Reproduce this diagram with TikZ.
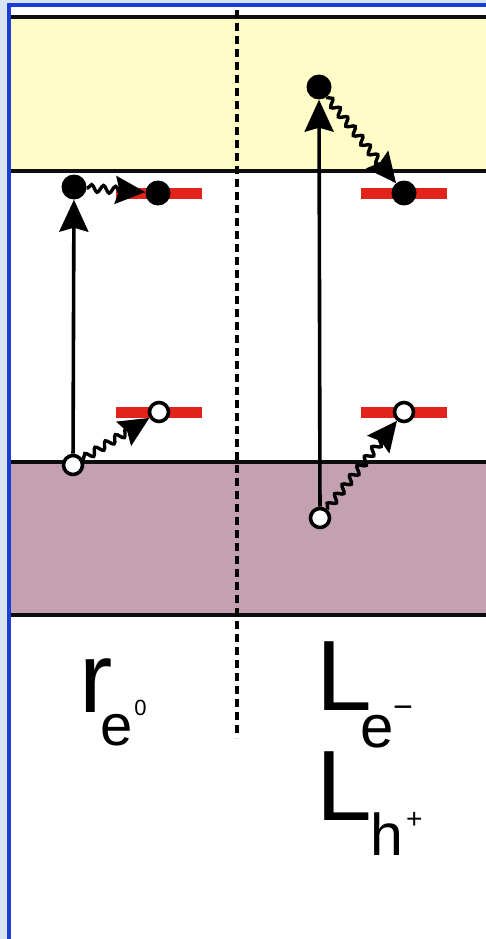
\documentclass[tikz,border=0pt]{standalone}
\usepackage{fontspec}
\setmainfont{Liberation Sans}
\usetikzlibrary{arrows.meta,decorations.pathmorphing}

\definecolor{pagebg}{HTML}{DAE5F4}
\definecolor{frameblue}{HTML}{1A3FD6}
\definecolor{cbband}{HTML}{FFFCC8}
\definecolor{vbband}{HTML}{C4A1B1}
\definecolor{levelred}{HTML}{E2231A}

% big symbol with a lowered subscript and a raised superscript
\newcommand{\carriersym}[8]{%
  {\fontsize{100}{100}\selectfont #1}\kern#2%
  \raisebox{#3}{\fontsize{#4}{#4}\selectfont #5}\kern#6%
  \raisebox{#7}{\fontsize{#8}{#8}\selectfont\carriersup}}

\begin{document}
\begin{tikzpicture}[x=1pt,y=-1pt,
  bandline/.style={line width=4.5pt,black!95},
  divider/.style={line width=4pt,dash pattern=on 8pt off 5pt},
  electron/.style={circle,fill=black,inner sep=0pt,minimum size=25pt},
  hole/.style={circle,draw=black,line width=3.6pt,fill=white,inner sep=0pt,minimum size=19pt},
  trap/.style={rectangle,fill=levelred,inner sep=0pt,minimum width=86pt,minimum height=11pt},
  excite/.style={line width=3.6pt,-{Stealth[length=32pt,width=29pt,inset=4pt]}},
  relax/.style={line width=3.4pt,-{Stealth[length=30pt,width=28pt,inset=4pt]},
    decorate,decoration={snake,amplitude=3.6pt,segment length=12pt,
    pre length=1pt,post length=16pt}},
  symb/.style={inner sep=0pt,anchor=base west}
]
\useasboundingbox (0,0) rectangle (486,939);

% page background, panel and its frame
\fill[pagebg] (0,0) rectangle (486,939);
\fill[white] (9,5) rectangle (486,939);
\draw[frameblue,line width=4.5pt] (9,939) -- (9,5) -- (486,5);

% conduction and valence bands
\fill[cbband] (11,17) rectangle (486,171);
\fill[vbband] (11,462) rectangle (486,615);
\foreach \yy in {17,171,462,615}
  \draw[bandline] (11,\yy) -- (486,\yy);

% dividing line between the two cases
\draw[divider] (237,10) -- (237,738);

% trap levels
\node[trap] (tLu) at (159,193) {};
\node[trap] (tLd) at (159,412) {};
\node[trap] (tRu) at (404,193) {};
\node[trap] (tRd) at (404,412) {};

% left case: carriers created at the band edges
\node[hole]     (hL0) at (73,465) {};
\node[electron] (eL0) at (74,187) {};
\node[electron] (eL1) at (158,193) {};
\node[hole]     (hL1) at (159,412) {};

% right case: carriers created deep in the bands
\node[hole]     (hR0) at (320,518) {};
\node[electron] (eR0) at (319,87) {};
\node[electron] (eR1) at (404,193) {};
\node[hole]     (hR1) at (404,412) {};

% excitation
\draw[excite] (hL0) -- (eL0);
\draw[excite] (hR0) -- (eR0);

% relaxation into the traps
\draw[relax] (eL0) -- (eL1);
\draw[relax] (hL0) -- (hL1);
\draw[relax] (eR0) -- (eR1);
\draw[relax] (hR0) -- (hR1);

% labels
\node[symb] (rlab) at (79,712)
  {\def\carriersup{0}\carriersym{r}{-12.3pt}{-33pt}{58}{e}{1.8pt}{-3pt}{22}};
\node[symb] (Lelab) at (316,710)
  {\def\carriersup{−}\carriersym{L}{-11.6pt}{-37pt}{60}{e}{-0.4pt}{-8pt}{34}};
\node[symb] (Lhlab) at (316,820)
  {\def\carriersup{+}\carriersym{L}{-1.6pt}{-35pt}{59}{h}{3.2pt}{-8pt}{28}};
\end{tikzpicture}
\end{document}
